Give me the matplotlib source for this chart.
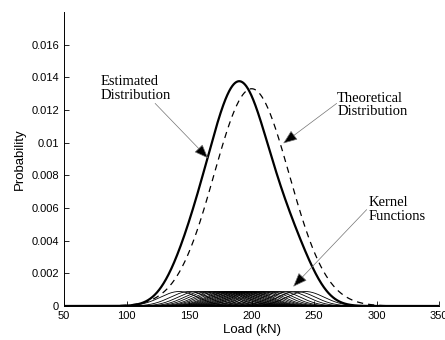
import matplotlib
matplotlib.use("Agg")
import matplotlib.pyplot as plt
import numpy as np

# sample loads (kN) behind the kernel estimate, read off the kernel peaks
sample_loads = [142, 150, 156, 161, 165, 169, 172, 175, 178, 180,
                182, 184, 186, 188, 190, 192, 194, 196, 198, 200,
                202, 205, 208, 211, 215, 219, 224, 230, 236, 243]
bandwidth = 15.0
theo_mean = 200.0
theo_std = 30.0

xticks = [50, 100, 150, 200, 250, 300, 350]
yticks = [0, 0.002, 0.004, 0.006, 0.008, 0.01, 0.012, 0.014, 0.016]
ytick_labels = ["0", "0.002", "0.004", "0.006", "0.008", "0.01", "0.012", "0.014", "0.016"]

x = np.linspace(50, 350, 1201)
n = len(sample_loads)

def gauss(x, mu, s):
    return np.exp(-0.5 * ((x - mu) / s) ** 2) / (s * np.sqrt(2 * np.pi))

kernels = [gauss(x, c, bandwidth) / n for c in sample_loads]
estimated = np.sum(kernels, axis=0)
theoretical = gauss(x, theo_mean, theo_std)

fig = plt.figure(figsize=(4.45, 3.4), dpi=100)
ax = fig.add_axes([0.144, 0.1, 0.843, 0.865])

for k in kernels:
    ax.plot(x, k, color="black", lw=0.6)
ax.plot(x, estimated, color="black", lw=1.6)
ax.plot(x, theoretical, color="black", lw=0.9, ls=(0, (5, 4)))

ax.set_xlim(50, 350)
ax.set_ylim(0, 0.018)
ax.set_xticks(xticks)
ax.set_xticklabels([str(v) for v in xticks])
ax.set_yticks(yticks)
ax.set_yticklabels(ytick_labels)
ax.tick_params(direction="in", length=3.5, labelsize=8, width=0.6)
for lab in ax.get_xticklabels() + ax.get_yticklabels():
    lab.set_family("Liberation Sans")
ax.spines["top"].set_visible(False)
ax.spines["right"].set_visible(False)
ax.spines["left"].set_linewidth(0.7)
ax.spines["bottom"].set_linewidth(0.7)

ax.set_xlabel("Load (kN)", fontsize=9.5, family="Liberation Sans", labelpad=2)
ax.set_ylabel("Probability", fontsize=9.5, family="Liberation Sans", labelpad=4)

# thin grey shaft, solid black head
arrow = dict(arrowstyle="-|>,head_length=0.9,head_width=0.35", fc="black", ec="0.45",
             lw=0.5, shrinkA=0, shrinkB=0)
txt = dict(fontsize=10.5, family="Liberation Serif", linespacing=1.05, va="center", ha="left")

ax.annotate("", xy=(165.2, 0.00904), xytext=(122.8, 0.0124), arrowprops=arrow)
ax.text(79.6, 0.0133, "Estimated\nDistribution", **txt)

ax.annotate("", xy=(225.2, 0.00995), xytext=(268, 0.0124), arrowprops=arrow)
ax.text(268.4, 0.0123, "Theoretical\nDistribution", **txt)

ax.annotate("", xy=(233.2, 0.00118), xytext=(292, 0.0059), arrowprops=arrow)
ax.text(293.5, 0.0059, "Kernel\nFunctions", **txt)

fig.savefig("out.png", dpi=100)
